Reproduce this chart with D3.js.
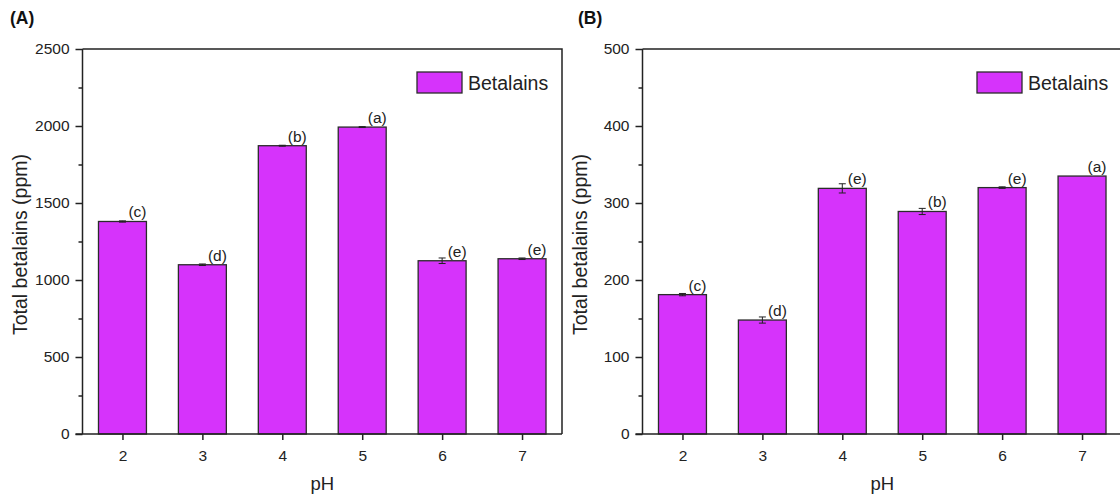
<!DOCTYPE html>
<html>
<head>
<meta charset="utf-8">
<script src="https://cdn.jsdelivr.net/npm/d3@7"></script>
<style>
  body { margin: 0; background: #fff; }
  svg { display: block; font-family: "Liberation Sans", Arial, sans-serif; }
</style>
</head>
<body>
<svg id="chart" width="1120" height="497"></svg>
<script>
const phLevels = [2, 3, 4, 5, 6, 7];

const betalainsA = [1380, 1099, 1872, 1993, 1125, 1138];
const errorsA = [4, 5, 3, 3, 18, 5];
const lettersA = ["(c)", "(d)", "(b)", "(a)", "(e)", "(e)"];
const yTicksA = [0, 500, 1000, 1500, 2000, 2500];

const betalainsB = [181, 148, 319, 289, 320, 335];
const errorsB = [1.5, 4, 6, 4, 1, 0];
const lettersB = ["(c)", "(d)", "(e)", "(b)", "(e)", "(a)"];
const yTicksB = [0, 100, 200, 300, 400, 500];

const barColor = "#d633fb";
const ink = "#222";

const svg = d3.select("#chart");

function drawPanel(opt) {
  const left = opt.left, right = opt.left + 479.5;
  const top = 49, bottom = 434;

  const x = d3.scaleLinear().domain([1.5, 7.5]).range([left, right]);
  const y = d3.scaleLinear().domain([0, opt.max]).range([bottom, top]);
  const bw = (x(1) - x(0)) * 0.6;

  const g = svg.append("g");

  // bars
  g.selectAll("rect.bar")
    .data(opt.values)
    .join("rect")
      .attr("class", "bar")
      .attr("x", (d, i) => x(phLevels[i]) - bw / 2)
      .attr("y", d => y(d))
      .attr("width", bw)
      .attr("height", d => y(0) - y(d))
      .attr("fill", barColor)
      .attr("stroke", "#2b2b2b")
      .attr("stroke-width", 1.3);

  // error bars
  const eb = g.append("g").attr("stroke", ink).attr("stroke-width", 1);
  opt.values.forEach((v, i) => {
    const e = opt.errors[i];
    if (!e) return;
    const cx = x(phLevels[i]);
    eb.append("line").attr("x1", cx).attr("x2", cx).attr("y1", y(v - e)).attr("y2", y(v + e));
    [v - e, v + e].forEach(t => {
      eb.append("line").attr("x1", cx - 3.5).attr("x2", cx + 3.5).attr("y1", y(t)).attr("y2", y(t));
    });
  });

  // significance letters
  g.selectAll("text.letter")
    .data(opt.letters)
    .join("text")
      .attr("class", "letter")
      .attr("x", (d, i) => x(phLevels[i]) + 15)
      .attr("y", (d, i) => y(opt.values[i]) - 4)
      .attr("text-anchor", "middle")
      .attr("font-size", 15.5)
      .attr("fill", ink)
      .text(d => d);

  // axes
  const yAxis = d3.axisLeft(y).tickValues(opt.ticks).tickSize(7).tickPadding(6).tickFormat(d3.format("d"));
  const yMinor = d3.axisLeft(y).tickValues(d3.range(opt.ticks.length - 1).map(i => (opt.ticks[i] + opt.ticks[i + 1]) / 2)).tickSize(4).tickFormat("");
  const xAxis = d3.axisBottom(x).tickValues(phLevels).tickSize(6).tickPadding(10).tickFormat(d3.format("d"));

  const ya = g.append("g").attr("transform", `translate(${left},0)`).call(yAxis);
  g.append("g").attr("transform", `translate(${left},0)`).call(yMinor).select(".domain").remove();
  const xa = g.append("g").attr("transform", `translate(0,${bottom})`).call(xAxis);

  [ya, xa].forEach(a => {
    a.select(".domain").attr("stroke", ink).attr("stroke-width", 1.5);
    a.selectAll(".tick text").attr("font-size", 15.5).attr("fill", ink).attr("font-family", "Liberation Sans, Arial, sans-serif");
  });
  g.selectAll(".tick line").attr("stroke", ink).attr("stroke-width", 1.5);
  ya.select(".domain").attr("d", `M0,${bottom}V${top}`);
  xa.select(".domain").attr("d", `M${left - 7},0H${right}`);

  // frame top and right
  g.append("path")
    .attr("d", `M${left},${top}H${right}V${bottom}`)
    .attr("fill", "none").attr("stroke", ink).attr("stroke-width", 1.5);

  // titles
  g.append("text")
    .attr("transform", `translate(${left - 56},${(top + bottom) / 2 + 3}) rotate(-90)`)
    .attr("text-anchor", "middle")
    .attr("font-size", 19.5)
    .attr("fill", ink)
    .text("Total betalains (ppm)");

  g.append("text")
    .attr("x", (left + right) / 2)
    .attr("y", 490)
    .attr("text-anchor", "middle")
    .attr("font-size", 18.5)
    .attr("fill", ink)
    .text("pH");

  g.append("text")
    .attr("x", opt.labelX)
    .attr("y", 24)
    .attr("font-size", 17.5)
    .attr("font-weight", "bold")
    .attr("fill", "#111")
    .text(opt.label);

  // legend
  const lg = g.append("g").attr("transform", `translate(${right - 145},72)`);
  lg.append("rect").attr("width", 45).attr("height", 21)
    .attr("fill", barColor).attr("stroke", "#2b2b2b").attr("stroke-width", 1.3);
  lg.append("text").attr("x", 51).attr("y", 17.5)
    .attr("font-size", 19.5).attr("fill", ink).text("Betalains");
}

drawPanel({ left: 82.5, max: 2500, ticks: yTicksA, values: betalainsA, errors: errorsA, letters: lettersA, label: "(A)", labelX: 10 });
drawPanel({ left: 642.5, max: 500, ticks: yTicksB, values: betalainsB, errors: errorsB, letters: lettersB, label: "(B)", labelX: 578 });
</script>
</body>
</html>
